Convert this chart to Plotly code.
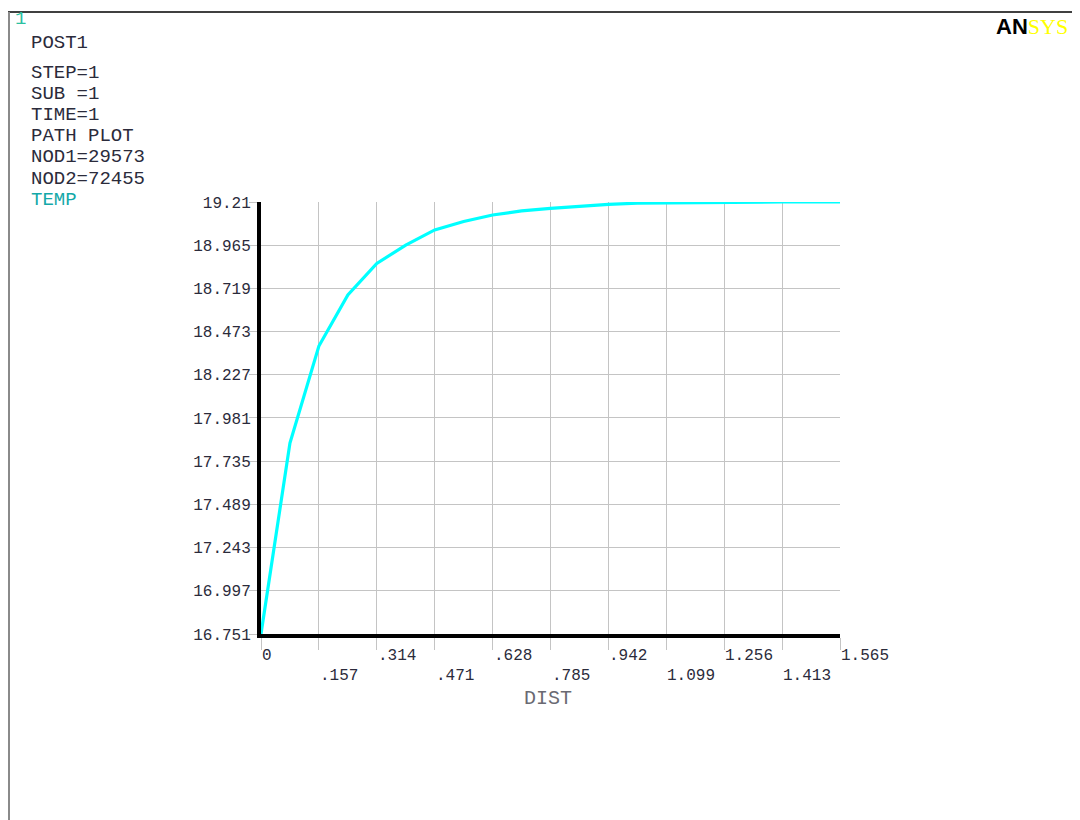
import plotly.graph_objects as go

# ---- data ----
dist = [0.0, 0.07825, 0.1565, 0.23475, 0.313, 0.39125, 0.4695, 0.54775, 0.626, 0.70425,
        0.7825, 0.86075, 0.939, 1.01725, 1.0955, 1.17375, 1.252, 1.33025, 1.4085, 1.48675, 1.565]
temp = [16.751, 17.838, 18.390, 18.681, 18.860, 18.965, 19.051, 19.099, 19.136, 19.159,
        19.174, 19.187, 19.197, 19.203, 19.205, 19.207, 19.209, 19.210, 19.210, 19.210, 19.210]

x_tick_vals = [0, 0.1565, 0.313, 0.4695, 0.626, 0.7825, 0.939, 1.0955, 1.252, 1.4085, 1.565]
x_tick_labels = ["0", ".157", ".314", ".471", ".628", ".785", ".942", "1.099", "1.256", "1.413", "1.565"]
y_tick_vals = [16.751, 16.997, 17.243, 17.489, 17.735, 17.981, 18.227, 18.473, 18.719, 18.965, 19.21]
y_tick_labels = ["16.751", "16.997", "17.243", "17.489", "17.735", "17.981", "18.227", "18.473", "18.719", "18.965", "19.21"]

info_lines = ["POST1", "STEP=1", "SUB =1", "TIME=1", "PATH PLOT", "NOD1=29573", "NOD2=72455"]
info_y_px = [43, 73, 94, 115, 136, 157, 179]

# ---- geometry (page pixels; the page body adds an 8px offset) ----
OFF = 8
W, H = 1080, 820
L, R, T, B = 261 - OFF, 840 - OFF, 202 - OFF, 634 - OFF
pw, ph = R - L, B - T

def px_x(px):
    return (px - OFF - L) / pw

def px_y(py):
    return (B - (py - OFF)) / ph

MONO = "Liberation Mono"
TXT = "#2b2b3b"
GRID = "#c4c4c4"

fig = go.Figure()
fig.add_trace(go.Scatter(x=dist, y=temp, mode="lines",
                         line=dict(color="#00ffff", width=3.2), hoverinfo="skip",
                         showlegend=False))

annotations = []
annotations.append(dict(x=px_x(13), y=px_y(19), xref="paper", yref="paper", text="1",
                        showarrow=False, xanchor="left", yanchor="middle",
                        font=dict(family=MONO, size=19, color="#2cc0a0")))
for txt, yp in zip(info_lines, info_y_px):
    annotations.append(dict(x=px_x(29), y=px_y(yp), xref="paper", yref="paper", text=txt,
                            showarrow=False, xanchor="left", yanchor="middle",
                            font=dict(family=MONO, size=19, color=TXT)))
annotations.append(dict(x=px_x(29), y=px_y(200), xref="paper", yref="paper", text="TEMP",
                        showarrow=False, xanchor="left", yanchor="middle",
                        font=dict(family=MONO, size=19, color="#14a8a8")))
# ANSYS logo at the top-right corner
annotations.append(dict(x=px_x(1070), y=px_y(26), xref="paper", yref="paper",
                        text="<b>AN</b><span style='color:#ffff00;font-family:Liberation Serif;font-weight:normal'>SYS</span>",
                        showarrow=False, xanchor="right", yanchor="middle",
                        font=dict(family="Liberation Sans", size=22, color="#000000")))
# x tick labels in two staggered rows
for i, (xv, lab) in enumerate(zip(x_tick_vals, x_tick_labels)):
    ypx = 656 if i % 2 == 0 else 676
    annotations.append(dict(x=xv, y=px_y(ypx), xref="x", yref="paper", text=lab,
                            showarrow=False, xanchor="left", yanchor="middle",
                            xshift=-1,
                            font=dict(family=MONO, size=16, color=TXT)))
# x title
annotations.append(dict(x=px_x(548), y=px_y(698), xref="paper", yref="paper", text="DIST",
                        showarrow=False, xanchor="center", yanchor="middle",
                        font=dict(family=MONO, size=20, color="#6a6a72")))

shapes = [
    dict(type="line", xref="paper", yref="paper", x0=px_x(8), x1=px_x(W + 20),
         y0=px_y(12), y1=px_y(12), line=dict(color="#000000", width=1.5)),
    dict(type="line", xref="paper", yref="paper", x0=px_x(9), x1=px_x(9),
         y0=px_y(12), y1=px_y(H + 20), line=dict(color="#8a8a8a", width=2)),
]

fig.update_layout(
    width=W, height=H,
    margin=dict(l=L, r=W - R, t=T, b=H - B, pad=0),
    paper_bgcolor="white", plot_bgcolor="white",
    showlegend=False,
    annotations=annotations,
    shapes=shapes,
    xaxis=dict(range=[0, 1.565], tickvals=x_tick_vals, showticklabels=False,
               showgrid=True, gridcolor=GRID, gridwidth=1,
               ticks="outside", ticklen=12, tickcolor=GRID, tickwidth=1,
               showline=True, linecolor="#000000", linewidth=4,
               zeroline=False, fixedrange=True),
    yaxis=dict(range=[16.751, 19.21], tickvals=y_tick_vals, ticktext=y_tick_labels,
               showgrid=True, gridcolor=GRID, gridwidth=1,
               ticks="outside", ticklen=8, tickcolor=GRID, tickwidth=1,
               ticklabelstandoff=-5,
               showline=True, linecolor="#000000", linewidth=4,
               zeroline=False, fixedrange=True,
               tickfont=dict(family=MONO, size=16, color=TXT)),
)

fig.write_html("out.html")
